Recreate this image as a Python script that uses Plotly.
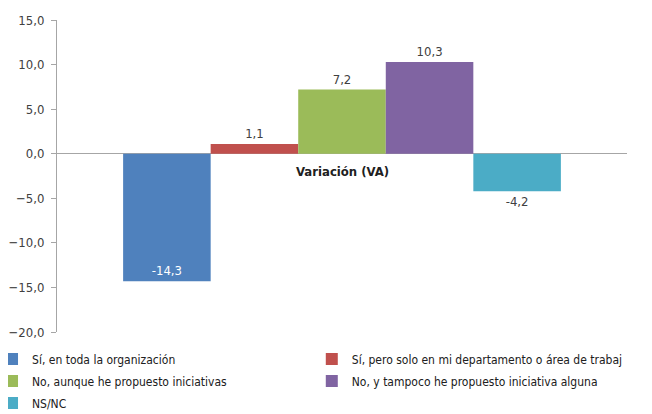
import plotly.graph_objects as go

CATEGORY = "Variación (VA)"
SERIES = [
    "Sí, en toda la organización",
    "Sí, pero solo en mi departamento o área de trabaj",
    "No, aunque he propuesto iniciativas",
    "No, y tampoco he propuesto iniciativa alguna",
    "NS/NC",
]
VALUES = [-14.3, 1.1, 7.2, 10.3, -4.2]
COLORS = ["#4F81BD", "#C0504D", "#9BBB59", "#8064A2", "#4BACC6"]
LABEL_POS = ["inside", "outside", "outside", "outside", "outside"]
LABEL_COLOR = ["white", "#404040", "#404040", "#404040", "#404040"]
LEGEND_COLUMN = ["legend", "legend2", "legend", "legend2", "legend"]

FONT = "DejaVu Sans Condensed, Liberation Sans Narrow, Arial Narrow, Liberation Sans, sans-serif"

fig = go.Figure()
for name, val, color, pos, tcolor, leg in zip(
    SERIES, VALUES, COLORS, LABEL_POS, LABEL_COLOR, LEGEND_COLUMN
):
    fig.add_trace(
        go.Bar(
            x=[CATEGORY],
            y=[val],
            name=name,
            legend=leg,
            legendgroup=name,
            marker={"color": color, "line": {"width": 0}},
            text=[f"{val:.1f}".replace(".", ",")],
            textposition=pos,
            insidetextanchor="end",
            textfont={"color": tcolor, "size": 13, "family": FONT},
            outsidetextfont={"color": tcolor, "size": 13, "family": FONT},
            cliponaxis=False,
        )
    )

fig.add_annotation(
    x=CATEGORY,
    y=0,
    yshift=-18,
    text="<b>Variación (VA)</b>",
    showarrow=False,
    font={"size": 13, "color": "#202020", "family": FONT},
)

legend_style = {
    "orientation": "v",
    "xanchor": "left",
    "yanchor": "top",
    "y": -0.04,
    "itemwidth": 30,
    "tracegroupgap": 3,
    "bgcolor": "rgba(0,0,0,0)",
    "font": {"size": 12, "color": "#202020", "family": FONT},
}

fig.update_layout(
    width=644,
    height=406,
    margin={"l": 49, "r": 25, "t": 12, "b": 82, "autoexpand": False},
    plot_bgcolor="white",
    paper_bgcolor="white",
    barmode="group",
    bargap=0.232,
    bargroupgap=0,
    separators=",.",
    font={"family": FONT, "size": 13, "color": "#404040"},
    legend={**legend_style, "x": -0.114},
    legend2={**legend_style, "x": 0.447},
)
fig.update_xaxes(showticklabels=False, showline=False, showgrid=False)
fig.update_yaxes(
    range=[-20, 15],
    dtick=5,
    tickformat=".1f",
    tickfont={"size": 13, "color": "#404040", "family": FONT},
    ticklabelstandoff=4,
    showgrid=False,
    showline=True,
    linecolor="#A6A6A6",
    linewidth=1,
    ticks="outside",
    ticklen=5,
    tickcolor="#A6A6A6",
    zeroline=True,
    zerolinecolor="#A6A6A6",
    zerolinewidth=1,
)

fig.write_html("out.html")
